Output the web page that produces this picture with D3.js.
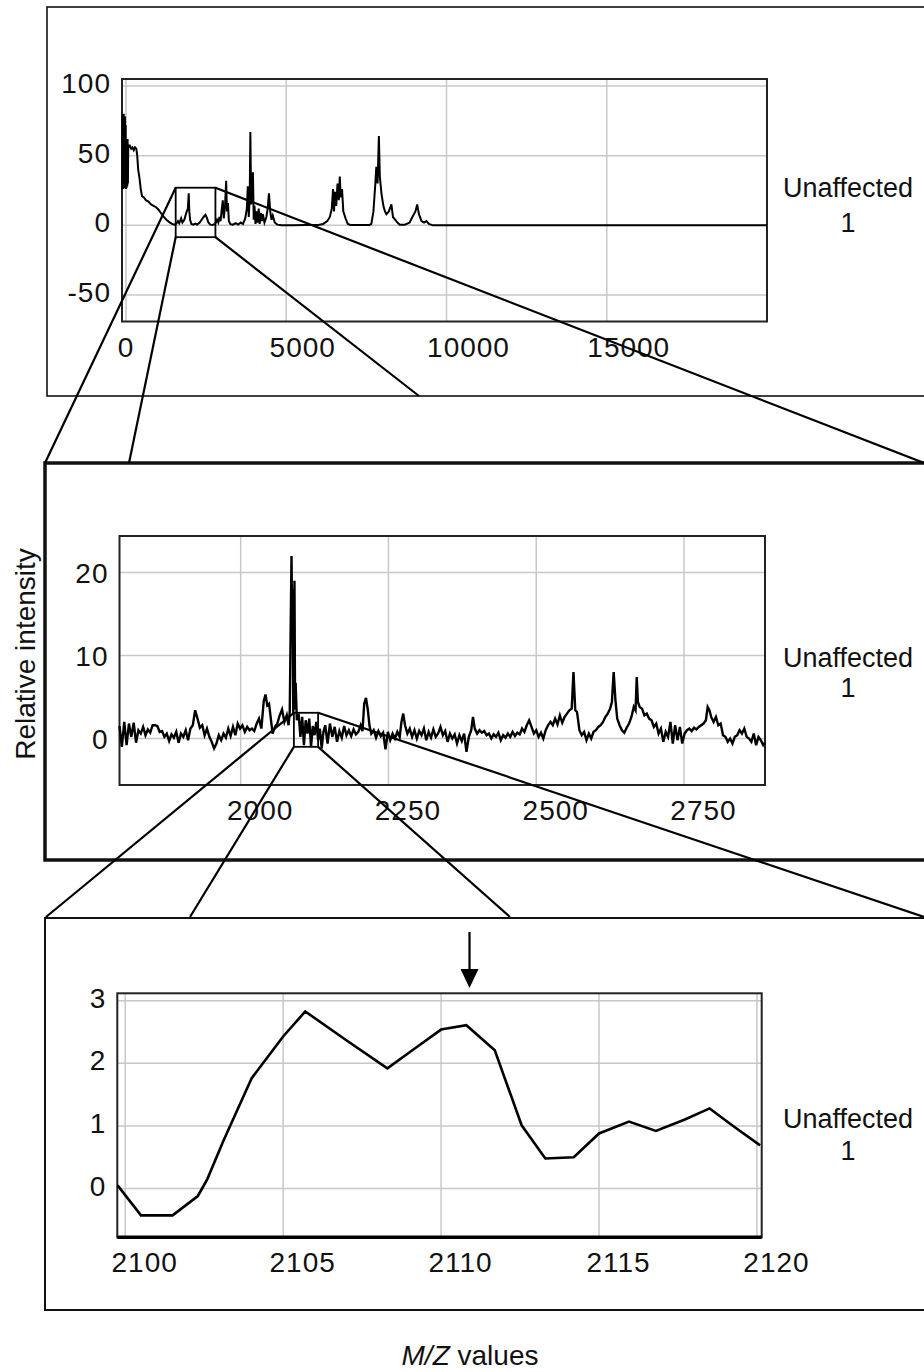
<!DOCTYPE html>
<html>
<head>
<meta charset="utf-8">
<script src="https://cdn.jsdelivr.net/npm/d3@7"></script>
<style>
  body { margin: 0; background: #fff; }
  text { font-family: "Liberation Sans", Arial, sans-serif; fill: #111; }
</style>
</head>
<body>
<script>
// ---- data: [m/z, relative intensity] ----
const overviewSpectrum = [
  [-120, 26], [-110, 80], [-100, 28], [-90, 78], [-80, 26], [-70, 80], [-60, 30], [-50, 76],
  [-40, 27], [-30, 78], [-20, 28], [-10, 72], [0, 26], [10, 62], [20, 27], [30, 60], [40, 28],
  [50, 62], [60, 30], [70, 58], [80, 56], [120, 57], [160, 55], [200, 56], [240, 54], [280, 56],
  [320, 55], [350, 50], [380, 40], [420, 34], [460, 26], [500, 21], [560, 20], [620, 18],
  [700, 17], [780, 15], [860, 14], [940, 13], [1020, 11], [1100, 8.5], [1180, 6], [1260, 4],
  [1340, 2.5], [1420, 1.2], [1500, 0.5], [1560, 1], [1620, 3], [1660, 1.5], [1720, 5],
  [1760, 2], [1820, 4], [1880, 9], [1930, 12], [1957, 23], [1975, 10], [2000, 4], [2040, 1],
  [2100, 0.5], [2160, 1.2], [2220, 0.6], [2300, 2], [2360, 4], [2420, 6], [2480, 7.5],
  [2530, 5], [2570, 2], [2630, 0.5], [2700, 0.3], [2780, 1], [2840, 4], [2880, 2], [2915, 6],
  [2950, 3], [2990, 12], [3020, 18], [3050, 5], [3090, 14], [3125, 32], [3150, 10], [3180, 16],
  [3210, 3], [3260, 0.8], [3330, 0.5], [3420, 1.5], [3500, 0.5], [3580, 2], [3650, 1],
  [3720, 5], [3770, 12], [3800, 28], [3830, 6], [3860, 20], [3880, 67], [3905, 15], [3930, 30],
  [3960, 38], [3985, 4], [4010, 14], [4040, 1], [4070, 10], [4100, 2], [4140, 12], [4170, 1],
  [4210, 9], [4240, 3], [4270, 8], [4320, 2], [4380, 6], [4420, 12], [4460, 23], [4500, 10],
  [4540, 4], [4580, 7], [4640, 2], [4720, 0.5], [4850, 0], [5200, 0], [5600, 0.3], [6000, 0.2],
  [6150, 1], [6280, 3], [6360, 6], [6420, 12], [6460, 26], [6490, 10], [6520, 24], [6560, 14],
  [6600, 30], [6640, 18], [6670, 35], [6700, 20], [6740, 26], [6780, 10], [6850, 5],
  [6920, 1], [7000, 0.3], [7300, 0.2], [7600, 0.3], [7655, 1], [7720, 10], [7780, 30],
  [7810, 42], [7850, 30], [7890, 64], [7920, 35], [7970, 23], [8030, 14], [8080, 10],
  [8125, 8], [8200, 10], [8280, 15], [8330, 6], [8400, 4], [8470, 2], [8540, 0.5], [8700, 0.5],
  [8850, 2], [8960, 7], [9030, 10], [9085, 15], [9140, 8], [9220, 3], [9300, 2], [9375, 3],
  [9450, 1], [9575, 0], [12000, 0], [16000, 0], [20000, 0]
];

const midSpectrum = [
  [1795, 1.5], [1799, -1.0], [1803, 2.0], [1807, -0.8], [1811, 1.8], [1815, 0.2], [1819, 1.9],
  [1823, -0.5], [1827, 1.0], [1831, 0.6], [1835, 1.4], [1839, 0.4], [1843, 1.1], [1847, 0.7],
  [1851, 1.6], [1855, 1.6], [1859, 1.5], [1863, 0.8], [1867, 0.9], [1871, 0.2], [1875, 0.6],
  [1879, -0.3], [1883, 0.5], [1887, 0.1], [1891, 0.8], [1895, -0.5], [1899, 0.6], [1903, 0.2],
  [1907, 1.0], [1911, -0.2], [1915, 1.2], [1919, 1.6], [1923, 3.4], [1927, 2.4], [1931, 1.3],
  [1935, 1.6], [1939, 0.4], [1943, 1.2], [1947, 0.2], [1951, -0.4], [1955, -1.2], [1959, -0.6],
  [1963, 0.4], [1967, -0.2], [1971, 0.6], [1975, 0.1], [1979, 1.2], [1983, 0.3], [1987, 1.4],
  [1991, 0.4], [1995, 1.8], [1999, 1.2], [2003, 1.6], [2007, 0.8], [2011, 1.4], [2015, 1.0],
  [2019, 1.2], [2023, 0.9], [2027, 1.8], [2031, 2.4], [2035, 1.2], [2039, 4.5], [2042, 5.3],
  [2045, 4.0], [2048, 4.2], [2051, 2.4], [2054, 0.6], [2058, 1.4], [2062, 1.8], [2066, 2.8],
  [2070, 3.5], [2074, 2.0], [2078, 2.8], [2081, 1.6], [2083, 3.2], [2085, 16], [2086, 22],
  [2087, 14], [2088, 18], [2089, 3], [2091, 19], [2092, 3.5], [2093, 6.7], [2095, 2.2],
  [2098, 3.0], [2101, 0.2], [2104, 2.6], [2107, -0.8], [2110, 2.2], [2113, 0.6], [2116, 2.4],
  [2119, -1.0], [2122, 1.5], [2125, 0.4], [2128, 2.0], [2131, -0.2], [2134, 1.2], [2137, -1.2],
  [2140, 0.8], [2143, 1.6], [2147, -0.6], [2151, 1.8], [2155, 0.2], [2159, 1.4], [2163, -0.4],
  [2167, 0.9], [2171, 0.1], [2175, 1.5], [2179, 0.4], [2183, 1.0], [2187, 0.3], [2191, 1.1],
  [2195, 0.5], [2199, 0.8], [2203, 1.6], [2206, 0.9], [2209, 4.2], [2212, 4.9], [2215, 3.5],
  [2218, 1.5], [2221, 0.6], [2225, 1.0], [2229, 0.1], [2233, 0.9], [2237, 0.3], [2241, 0.7],
  [2245, -1.3], [2249, 0.8], [2253, -0.2], [2257, 0.6], [2261, 0.0], [2265, 0.8], [2269, 0.2],
  [2272, 2.0], [2275, 3.0], [2278, 1.6], [2282, 0.6], [2286, 1.2], [2290, 0.2], [2294, 1.0],
  [2298, 0.0], [2302, 0.9], [2306, 0.4], [2310, 1.2], [2314, -0.2], [2318, 0.8], [2322, 0.1],
  [2326, 1.1], [2330, 0.2], [2334, 0.6], [2338, 1.4], [2342, 0.4], [2346, 0.9], [2350, -0.4],
  [2354, 0.6], [2358, 0.0], [2362, 0.5], [2366, -0.6], [2370, 0.4], [2374, -0.3], [2378, 0.6],
  [2382, -1.6], [2386, 0.2], [2390, 1.0], [2393, 2.6], [2396, 1.2], [2400, 0.6], [2404, 1.0],
  [2408, 0.7], [2412, 0.9], [2416, 0.4], [2420, 0.6], [2424, 0.0], [2428, 0.5], [2432, 0.2],
  [2436, 0.7], [2440, -0.2], [2444, 0.4], [2448, 0.1], [2452, 0.6], [2456, 0.2], [2460, 0.8],
  [2464, 0.3], [2468, 0.7], [2472, 0.5], [2476, 1.2], [2480, 0.8], [2484, 1.6], [2488, 2.2],
  [2492, 1.4], [2496, 0.6], [2500, 1.0], [2504, 0.2], [2508, 0.7], [2512, 0.0], [2516, 1.0],
  [2520, 1.6], [2524, 2.0], [2528, 1.6], [2532, 2.4], [2536, 1.7], [2540, 2.8], [2544, 1.9],
  [2548, 2.6], [2552, 3.0], [2556, 3.4], [2560, 3.6], [2563, 8.0], [2566, 3.4], [2569, 3.2],
  [2573, 1.0], [2577, 0.4], [2581, 0.8], [2585, -0.2], [2589, 0.6], [2593, 0.0], [2597, 0.8],
  [2601, 1.0], [2605, 1.4], [2609, 1.6], [2613, 2.0], [2617, 2.6], [2621, 3.0], [2625, 3.6],
  [2628, 4.4], [2631, 8.0], [2634, 4.6], [2637, 2.4], [2641, 1.6], [2645, 1.0], [2649, 0.7],
  [2653, 1.3], [2657, 1.8], [2661, 2.6], [2665, 3.8], [2668, 3.4], [2670, 7.4], [2672, 4.4],
  [2675, 3.8], [2679, 3.6], [2683, 2.8], [2687, 3.0], [2691, 2.4], [2695, 2.2], [2699, 1.4],
  [2703, 1.8], [2707, 0.6], [2711, 1.2], [2715, -0.4], [2719, 0.8], [2723, 0.2], [2727, 2.0],
  [2731, -0.6], [2735, 1.6], [2739, -0.2], [2743, 1.4], [2747, -0.6], [2751, 0.6], [2755, 1.0],
  [2759, 1.2], [2763, 0.9], [2767, 1.3], [2771, 1.1], [2775, 1.4], [2779, 1.6], [2783, 1.8],
  [2787, 2.2], [2790, 3.8], [2793, 3.4], [2796, 2.6], [2800, 2.0], [2804, 2.6], [2808, 1.6],
  [2812, 1.8], [2816, 0.4], [2820, 0.2], [2824, -0.4], [2828, 0.0], [2832, -0.6], [2836, 0.2],
  [2840, 0.4], [2844, 1.0], [2848, 0.6], [2852, 1.2], [2856, 0.2], [2860, 0.0], [2864, -0.4],
  [2868, 0.6], [2872, -0.8], [2876, 0.2], [2880, -0.2], [2884, -0.8], [2887, -0.5]
];

const zoomSpectrum = [
  [2099.76, 0.05], [2100.5, -0.43], [2101.5, -0.43], [2102.3, -0.12], [2102.6, 0.15],
  [2103.1, 0.75], [2104.0, 1.76], [2105.0, 2.43], [2105.7, 2.83], [2107.0, 2.37],
  [2108.3, 1.92], [2109.2, 2.25], [2110.0, 2.54], [2110.8, 2.61], [2111.7, 2.21],
  [2112.55, 1.01], [2113.3, 0.48], [2114.2, 0.5], [2115.0, 0.88], [2115.95, 1.07],
  [2116.8, 0.92], [2117.7, 1.1], [2118.5, 1.28], [2119.3, 0.98], [2120.1, 0.69]
];

const overviewXTicks = [0, 5000, 10000, 15000];
const overviewYTicks = [-50, 0, 50, 100];
const midXTicks = [2000, 2250, 2500, 2750];
const midYTicks = [0, 10, 20];
const zoomXTicks = [2100, 2105, 2110, 2115, 2120];
const zoomYTicks = [0, 1, 2, 3];

const sampleLabel = ["Unaffected", "1"];
const yTitle = "Relative intensity";
const markedMz = 2110.9;

// windows shown enlarged in the next panel: [mz from, mz to, int from, int to]
const overviewWindow = [1550, 2790, -8.5, 27];
const midWindow = [2090, 2131, -1.0, 3.1];

// ---- layout ----
const svg = d3.select("body").append("svg")
  .attr("width", 924).attr("height", 1372)
  .style("display", "block");

svg.append("rect").attr("width", 924).attr("height", 1372).attr("fill", "#fff");

const panels = [
  { frame: [47, 7, 880, 389], frameW: 1.6, plot: [122, 79, 645, 242.5],
    xd: [-125, 20000], yd: [-69, 105], data: overviewSpectrum, lw: 2,
    xt: overviewXTicks, yt: overviewYTicks, xShift: 5.5, yDy: 7, labelY: [197, 232] },
  { frame: [45, 463, 882, 397], frameW: 3.5, plot: [119.5, 536, 645.5, 249],
    xd: [1795, 2887], yd: [-5.6, 24.4], data: midSpectrum, lw: 2.4,
    xt: midXTicks, yt: midYTicks, xShift: 6.5, yDy: 10, labelY: [667, 697] },
  { frame: [45, 918, 882, 392], frameW: 2, plot: [117.3, 993.3, 644.4, 244],
    xd: [2099.75, 2120.15], yd: [-0.78, 3.12], data: zoomSpectrum, lw: 2.6,
    xt: zoomXTicks, yt: zoomYTicks, xShift: 6.5, yDy: 7, labelY: [1128, 1160] }
];

panels.forEach(p => {
  const [px, py, pw, ph] = p.plot;
  p.x = d3.scaleLinear().domain(p.xd).range([px, px + pw]);
  p.y = d3.scaleLinear().domain(p.yd).range([py + ph, py]);

  const [fx, fy, fw, fh] = p.frame;
  svg.append("rect")
    .attr("x", fx).attr("y", fy).attr("width", fw).attr("height", fh)
    .attr("fill", "none").attr("stroke", "#111").attr("stroke-width", p.frameW);

  const g = svg.append("g");

  // grid
  g.selectAll(".gx").data(p.xt.filter(t => t > p.xd[0])).join("line")
    .attr("x1", d => p.x(d)).attr("x2", d => p.x(d))
    .attr("y1", py).attr("y2", py + ph)
    .attr("stroke", "#c8c8c8").attr("stroke-width", 1.5);
  g.selectAll(".gy").data(p.yt).join("line")
    .attr("x1", px).attr("x2", px + pw)
    .attr("y1", d => p.y(d)).attr("y2", d => p.y(d))
    .attr("stroke", "#c8c8c8").attr("stroke-width", 1.5);

  // tick labels
  g.selectAll(".tx").data(p.xt).join("text")
    .attr("x", d => p.x(d) + (String(d).length - 1) * p.xShift)
    .attr("y", py + ph + 35)
    .attr("text-anchor", "middle")
    .attr("font-size", 28).attr("letter-spacing", 1)
    .text(d => d);
  g.selectAll(".ty").data(p.yt).join("text")
    .attr("x", px - 11)
    .attr("y", d => p.y(d) + p.yDy)
    .attr("text-anchor", "end")
    .attr("font-size", 28).attr("letter-spacing", 1)
    .text(d => d);

  // plot border
  g.append("rect")
    .attr("x", px).attr("y", py).attr("width", pw).attr("height", ph)
    .attr("fill", "none").attr("stroke", "#222").attr("stroke-width", 2);

  // spectrum
  const line = d3.line().x(d => p.x(d[0])).y(d => p.y(d[1]));
  g.append("path").datum(p.data)
    .attr("d", line)
    .attr("fill", "none").attr("stroke", "#000")
    .attr("stroke-width", p.lw).attr("stroke-linejoin", "miter");

  // sample label
  g.selectAll(".lab").data(sampleLabel).join("text")
    .attr("x", 848).attr("y", (d, i) => p.labelY[i])
    .attr("text-anchor", "middle").attr("font-size", 27)
    .text(d => d);
});

// bottom plot has a heavier lower edge
{
  const p = panels[2];
  svg.append("line")
    .attr("x1", p.plot[0]).attr("x2", p.plot[0] + p.plot[2])
    .attr("y1", p.plot[1] + p.plot[3]).attr("y2", p.plot[1] + p.plot[3])
    .attr("stroke", "#000").attr("stroke-width", 3.5);
}

// zoom windows and connectors
function windowBox(p, w) {
  const x0 = p.x(w[0]), x1 = p.x(w[1]), y0 = p.y(w[3]), y1 = p.y(w[2]);
  svg.append("rect").attr("x", x0).attr("y", y0)
    .attr("width", x1 - x0).attr("height", y1 - y0)
    .attr("fill", "none").attr("stroke", "#000").attr("stroke-width", 1.8);
  return { x0, x1, y0, y1 };
}

const b1 = windowBox(panels[0], overviewWindow);
const b2 = windowBox(panels[1], midWindow);

const connectors = [
  [b1.x0, b1.y0, 45, 463],
  [b1.x0, b1.y1, 129, 463],
  [b1.x1, b1.y1, 419, 396],
  [b1.x1, b1.y0, 924, 463],
  [b2.x0, b2.y0, 46, 917],
  [b2.x0, b2.y1, 190, 917],
  [b2.x1, b2.y1, 510, 917],
  [b2.x1, b2.y0, 924, 917]
];

svg.selectAll(".conn").data(connectors).join("line")
  .attr("x1", d => d[0]).attr("y1", d => d[1])
  .attr("x2", d => d[2]).attr("y2", d => d[3])
  .attr("stroke", "#000").attr("stroke-width", 2.2);

// arrow marking the peak of interest
{
  const ax = panels[2].x(markedMz);
  svg.append("line").attr("x1", ax).attr("x2", ax)
    .attr("y1", 932).attr("y2", 974)
    .attr("stroke", "#000").attr("stroke-width", 2.2);
  svg.append("path")
    .attr("d", `M${ax - 9},969 L${ax + 9},969 L${ax},988 Z`)
    .attr("fill", "#000");
}

// axis titles
svg.append("text")
  .attr("transform", "translate(35,654) rotate(-90)")
  .attr("text-anchor", "middle").attr("font-size", 28)
  .text(yTitle);

const xt = svg.append("text")
  .attr("x", 470).attr("y", 1365)
  .attr("text-anchor", "middle").attr("font-size", 28);
xt.append("tspan").attr("font-style", "italic").text("M/Z");
xt.append("tspan").text(" values");
</script>
</body>
</html>
